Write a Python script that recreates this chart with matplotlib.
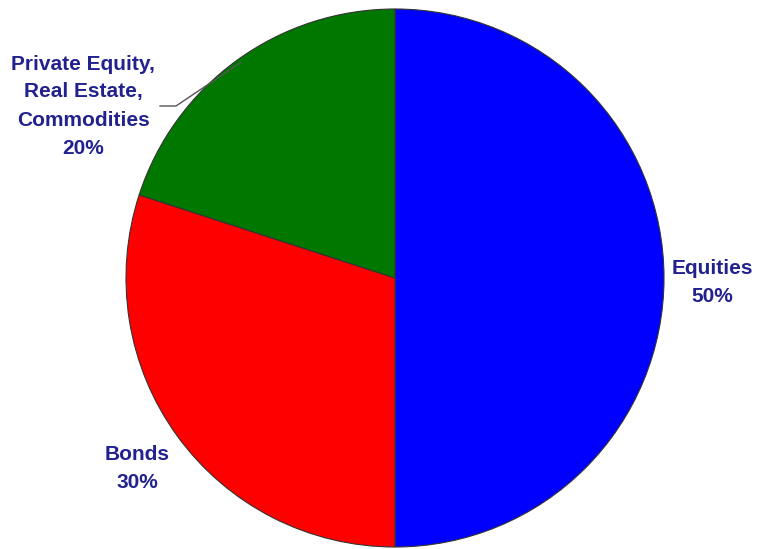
import numpy as np
import matplotlib.pyplot as plt

labels = ["Equities", "Bonds", "Private Equity,\nReal Estate,\nCommodities"]
shares = [50, 30, 20]
colors = ["#0000ff", "#ff0000", "#007800"]
# label centres in pixels from the top-left corner
label_pos = [(712, 282), (137, 468), (83, 106)]

plt.rcParams['font.family'] = ['Liberation Sans', 'DejaVu Sans']

W, H = 760, 549
fig = plt.figure(figsize=(W / 100, H / 100), dpi=100)
ax = fig.add_axes([0, 0, 1, 1])

cx, cy, r = 395, H - 278, 269
wedges, _ = ax.pie(shares, colors=colors, startangle=90, counterclock=False,
                   center=(cx, cy), radius=r,
                   wedgeprops=dict(edgecolor='#333333', linewidth=0.8))
ax.set_xlim(0, W)
ax.set_ylim(0, H)
ax.set_aspect('equal')
ax.axis('off')

for lab, val, (x, y) in zip(labels, shares, label_pos):
    ax.text(x, H - y, f"{lab}\n{val}%", ha='center', va='center', fontsize=15,
            fontweight='bold', color='#22228f', linespacing=1.6)

# leader line for the small slice
w = wedges[2]
mid = np.deg2rad((w.theta1 + w.theta2) / 2)
ex, ey = cx + r * np.cos(mid), cy + r * np.sin(mid)
ax.plot([160, 176, ex + 4], [H - 106, H - 106, ey - 2], color='#555555', lw=1.0)

fig.savefig("out.png", dpi=100)
